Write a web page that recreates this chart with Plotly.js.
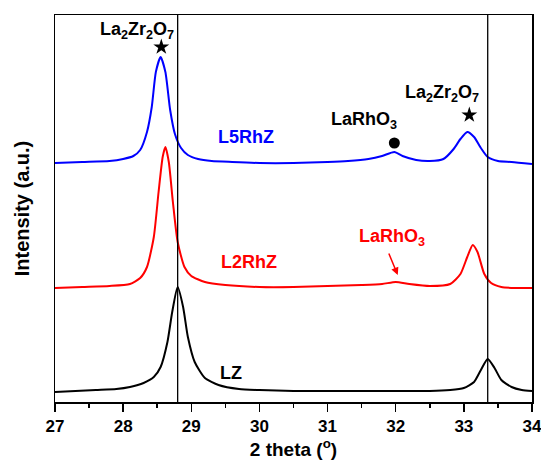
<!DOCTYPE html>
<html>
<head>
<meta charset="utf-8">
<script src="https://cdn.plot.ly/plotly-3.0.1.min.js"></script>
<style>html,body{margin:0;padding:0;background:#fff;}#chart{width:541px;height:463px;}</style>
</head>
<body>
<div id="chart"></div>
<script>
// LZ (black)
const lzX = [27, 27.3, 27.6, 27.9, 28.1, 28.3, 28.45, 28.55, 28.65, 28.72, 28.8, 28.88, 28.95, 29.05, 29.2, 29.4, 29.7, 30, 30.5, 31, 31.5, 32, 32.5, 32.8, 33.0, 33.15, 33.25, 33.35, 33.45, 33.55, 33.7, 33.85, 34];
const lzY = [10, 11, 12, 13, 15, 19, 25, 35, 60, 90, 115, 95, 65, 40, 24, 17, 13, 12, 11, 11, 11, 11, 11, 12, 14, 20, 32, 43, 34, 22, 15, 12, 11];
// L2RhZ (red)
const l2X = [27, 27.4, 27.8, 28.1, 28.25, 28.35, 28.45, 28.52, 28.58, 28.62, 28.67, 28.73, 28.8, 28.9, 29.0, 29.2, 29.5, 30, 30.5, 31, 31.5, 31.8, 32.0, 32.2, 32.5, 32.8, 32.95, 33.05, 33.13, 33.2, 33.3, 33.4, 33.55, 33.75, 34];
const l2Y = [114, 115, 116, 118, 124, 135, 165, 210, 245, 255, 240, 200, 160, 135, 126, 120, 117, 115, 115, 116, 117, 118, 120, 118, 116, 118, 128, 145, 157, 150, 128, 119, 115, 114, 114];
// L5RhZ (blue)
const l5X = [27, 27.4, 27.8, 28.0, 28.15, 28.25, 28.35, 28.42, 28.48, 28.55, 28.62, 28.69, 28.76, 28.85, 28.95, 29.1, 29.3, 29.6, 30, 30.5, 31, 31.3, 31.6, 31.8, 31.98, 32.1, 32.3, 32.5, 32.7, 32.85, 32.95, 33.05, 33.15, 33.25, 33.35, 33.5, 33.7, 34];
const l5Y = [239, 240, 241, 243, 246, 252, 270, 295, 330, 345, 330, 292, 268, 254, 247, 243, 241, 240, 239, 239, 240, 241, 243, 246, 250, 246, 242, 241, 243, 253, 263, 270, 265, 254, 245, 241, 240, 238];
// reference lines (LZ peak positions)
const refLines = [28.8, 33.35];
// phase markers
const starX = [28.56, 33.08];
const starY = [355, 287];
const dotX = [31.98];
const dotY = [259];
const xTicks = [27, 28, 29, 30, 31, 32, 33, 34];

const F = 'Liberation Sans, Arial, sans-serif';
const lineTrace = (x, y, c) => ({x, y, type: 'scatter', mode: 'lines', line: {color: c, width: 2, shape: 'spline', smoothing: 0.6}, hoverinfo: 'skip', showlegend: false});

const data = [
  lineTrace(lzX, lzY, '#000000'),
  lineTrace(l2X, l2Y, '#ff0000'),
  lineTrace(l5X, l5Y, '#0000ff'),
  {x: starX, y: starY, type: 'scatter', mode: 'markers', marker: {symbol: 'star', size: 12, color: '#000', line: {width: 0}}, showlegend: false},
  {x: dotX, y: dotY, type: 'scatter', mode: 'markers', marker: {symbol: 'circle', size: 11, color: '#000', line: {width: 0}}, showlegend: false}
];

const shapes = refLines.map(v => ({type: 'line', xref: 'x', yref: 'paper', x0: v, x1: v, y0: 0, y1: 1, line: {color: '#000', width: 1.3}}));

const ann = (text, x, y, color, size) => ({text: '<b>' + text + '</b>', x, y, xref: 'x', yref: 'y', showarrow: false, font: {family: F, size: size || 18, color}});

const layout = {
  width: 541, height: 463,
  margin: {l: 55, r: 9, t: 15, b: 61},
  paper_bgcolor: '#fff', plot_bgcolor: '#fff',
  xaxis: {
    range: [27, 34], tickvals: xTicks, ticktext: xTicks.map(String),
    ticks: 'outside', ticklen: 8, tickwidth: 1.5, tickcolor: '#000',
    ticklabeloverflow: 'allow',
    minor: {dtick: 0.5, tick0: 27, ticks: 'outside', ticklen: 4, tickwidth: 1.5, tickcolor: '#000'},
    showline: true, linecolor: '#000', linewidth: 1.5, mirror: true,
    showgrid: false, zeroline: false,
    tickfont: {family: F, size: 17, color: '#000', weight: 700},
    title: {text: '<b>2 theta (<sup>o</sup>)</b>', font: {family: F, size: 19, color: '#000'}, standoff: 8}
  },
  yaxis: {
    range: [0, 387], showticklabels: false, ticks: '',
    showline: true, linecolor: '#000', linewidth: 1.5, mirror: true,
    showgrid: false, zeroline: false,
    title: {text: '<b>Intensity (a.u.)</b>', font: {family: F, size: 20, color: '#000'}, standoff: 18}
  },
  shapes,
  annotations: [
    ann('La<sub>2</sub>Zr<sub>2</sub>O<sub>7</sub>', 28.20, 372, '#000'),
    ann('La<sub>2</sub>Zr<sub>2</sub>O<sub>7</sub>', 32.68, 309, '#000'),
    ann('LaRhO<sub>3</sub>', 31.53, 282, '#000'),
    ann('L5RhZ', 29.80, 265, '#0000ff'),
    ann('L2RhZ', 29.84, 140, '#ff0000'),
    ann('LZ', 29.58, 29, '#000'),
    ann('LaRhO<sub>3</sub>', 31.95, 165, '#ff0000'),
    {x: 32.03, y: 127, xref: 'x', yref: 'y', ax: 31.89, ay: 150, axref: 'x', ayref: 'y', showarrow: true, arrowhead: 2, arrowsize: 1, arrowwidth: 1.5, arrowcolor: '#ff0000', text: ''}
  ]
};

Plotly.newPlot('chart', data, layout, {staticPlot: true, displayModeBar: false});
</script>
</body>
</html>
